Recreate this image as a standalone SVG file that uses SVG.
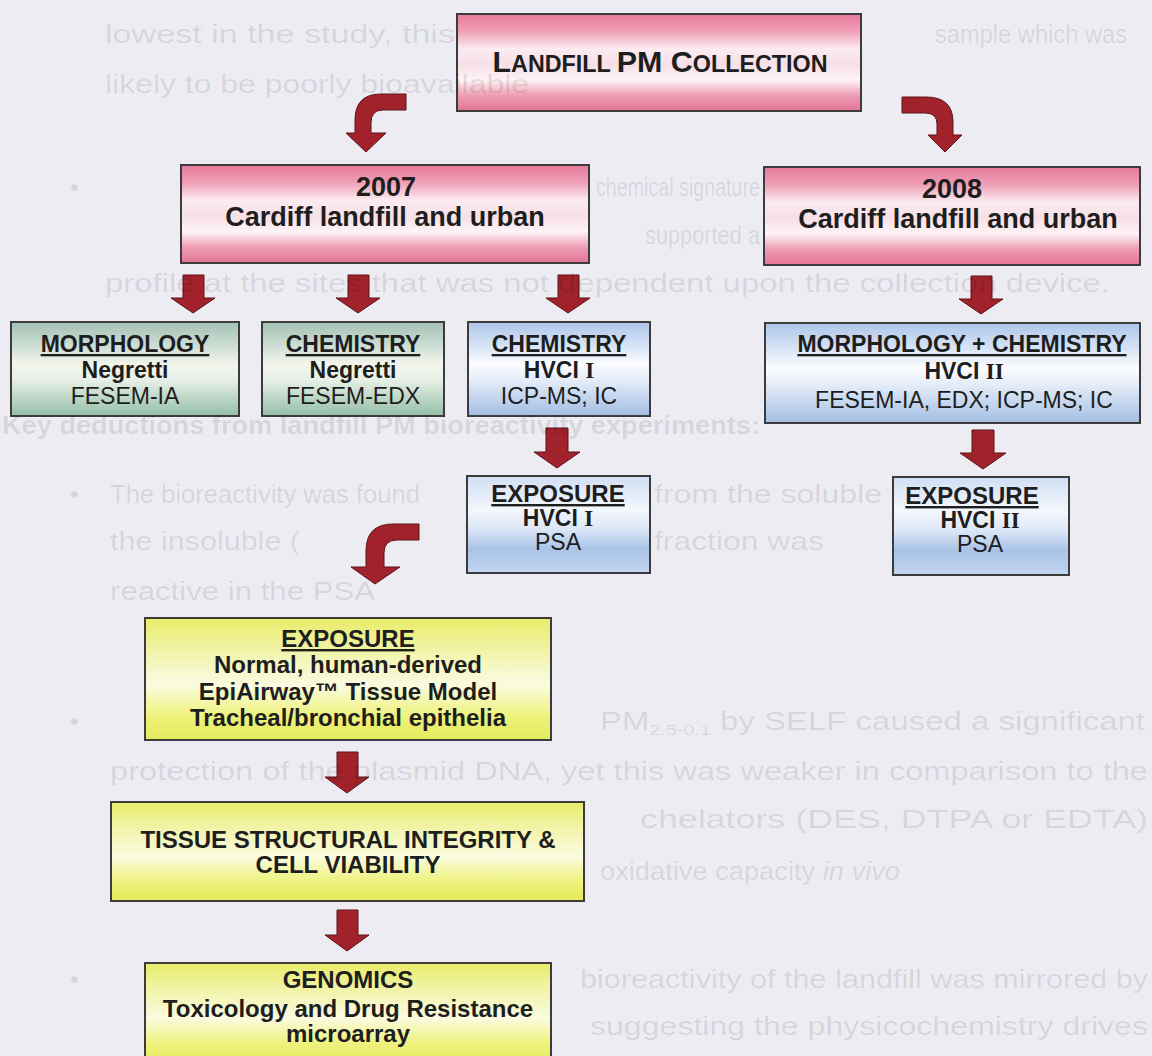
<svg xmlns="http://www.w3.org/2000/svg" width="1152" height="1056" viewBox="0 0 1152 1056">
  <defs>
    <linearGradient id="gPink" x1="0" y1="0" x2="0" y2="1">
      <stop offset="0" stop-color="#e77a9a"/>
      <stop offset="0.18" stop-color="#ef9fb6"/>
      <stop offset="0.36" stop-color="#fbecf1"/>
      <stop offset="0.52" stop-color="#f7dfe6"/>
      <stop offset="0.68" stop-color="#fdf3f6"/>
      <stop offset="0.84" stop-color="#ee9db4"/>
      <stop offset="1" stop-color="#e47396"/>
    </linearGradient>
    <linearGradient id="gGreen" x1="0" y1="0" x2="0" y2="1">
      <stop offset="0" stop-color="#a3c1b4"/>
      <stop offset="0.22" stop-color="#c7dad0"/>
      <stop offset="0.45" stop-color="#f3f5ec"/>
      <stop offset="0.62" stop-color="#e6efe6"/>
      <stop offset="1" stop-color="#93bea7"/>
    </linearGradient>
    <linearGradient id="gBlue" x1="0" y1="0" x2="0" y2="1">
      <stop offset="0" stop-color="#adc6ea"/>
      <stop offset="0.25" stop-color="#d6e3f5"/>
      <stop offset="0.45" stop-color="#fbfcfe"/>
      <stop offset="0.62" stop-color="#e4ecf8"/>
      <stop offset="1" stop-color="#a2bde4"/>
    </linearGradient>
    <linearGradient id="gBlueExp" x1="0" y1="0" x2="0" y2="1">
      <stop offset="0" stop-color="#d0def3"/>
      <stop offset="0.35" stop-color="#f4f7fc"/>
      <stop offset="0.55" stop-color="#dbe6f6"/>
      <stop offset="0.75" stop-color="#a9c3e8"/>
      <stop offset="1" stop-color="#c3d5f0"/>
    </linearGradient>
    <linearGradient id="gYellow" x1="0" y1="0" x2="0" y2="1">
      <stop offset="0" stop-color="#e8ec68"/>
      <stop offset="0.28" stop-color="#f2f4ac"/>
      <stop offset="0.55" stop-color="#fafbe0"/>
      <stop offset="0.8" stop-color="#eff27e"/>
      <stop offset="1" stop-color="#e5e95a"/>
    </linearGradient>
    <style>
      .box { stroke: #3c3c3c; stroke-width: 2; }
      .arrow { fill: #a2222b; stroke: #5c1217; stroke-width: 1; }
      .t { font-family: "Liberation Sans", Arial, sans-serif; fill: #1e1e1e; text-anchor: middle; }
      .b { font-weight: bold; }
      .u { text-decoration: underline; }
      .rn { font-family: "Liberation Serif", "Times New Roman", serif; font-weight: bold; }
      .ghost { font-family: "Liberation Sans", Arial, sans-serif; font-size: 25px; fill: #000; fill-opacity: 0.1; }
    </style>
  </defs>

  <!-- page background -->
  <rect x="0" y="0" width="1152" height="1056" fill="#edecf3"/>

  <!-- connectors -->
  <g id="connectors">
    <!-- bent arrows from the collection box -->
    <path class="arrow" d="M406,94 L381,94 Q355,94 355,120 L355,133 L346,133 L366,152 L386,133 L371,133 L371,123 Q371,110 383,110 L406,110 Z"/>
    <path class="arrow" d="M902,97 L926,97 Q953,97 953,122 L953,135 L962,135 L945,152 L928,135 L937,135 L937,124 Q937,113 925,113 L902,113 Z"/>
    <!-- 2007 branches -->
    <path class="arrow" d="M183,275 L204,275 L204,298 L215,298 L193,313 L171,298 L183,298 Z"/>
    <path class="arrow" d="M348,275 L369,275 L369,298 L380,298 L358,313 L336,298 L348,298 Z"/>
    <path class="arrow" d="M558,275 L579,275 L579,298 L590,298 L568,313 L546,298 L558,298 Z"/>
    <!-- 2008 branch -->
    <path class="arrow" d="M971,276 L992,276 L992,299 L1003,299 L981,314 L959,299 L971,299 Z"/>
    <!-- chemistry to exposure -->
    <path class="arrow" d="M546,428 L568,428 L568,452 L580,452 L557,468 L534,452 L546,452 Z"/>
    <path class="arrow" d="M972,430 L994,430 L994,453 L1006,453 L983,469 L960,453 L972,453 Z"/>
    <!-- bent arrow towards the tissue model -->
    <path class="arrow" d="M419,524 L393,524 Q366,524 366,551 L366,567 L351,567 L375,584 L400,567 L384,567 L384,553 Q384,540 397,540 L419,540 Z"/>
    <!-- yellow column -->
    <path class="arrow" d="M337,752 L358,752 L358,777 L369,777 L347,793 L325,777 L337,777 Z"/>
    <path class="arrow" d="M337,910 L358,910 L358,935 L369,935 L347,951 L325,935 L337,935 Z"/>
  </g>

  <g id="n-collection">
    <rect class="box" x="457" y="14" width="404" height="97" fill="url(#gPink)"/>
    <text class="t b" x="660" y="72" textLength="335" lengthAdjust="spacingAndGlyphs"><tspan font-size="30">L</tspan><tspan font-size="23">ANDFILL </tspan><tspan font-size="30">PM C</tspan><tspan font-size="23">OLLECTION</tspan></text>
  </g>

  <g id="n-2007">
    <rect class="box" x="181" y="165" width="408" height="98" fill="url(#gPink)"/>
    <text class="t b" x="386" y="196" font-size="27">2007</text>
    <text class="t b" x="385" y="226" font-size="27">Cardiff landfill and urban</text>
  </g>

  <g id="n-2008">
    <rect class="box" x="764" y="167" width="376" height="98" fill="url(#gPink)"/>
    <text class="t b" x="952" y="198" font-size="27">2008</text>
    <text class="t b" x="958" y="228" font-size="27">Cardiff landfill and urban</text>
  </g>

  <g id="n-morphology">
    <rect class="box" x="11" y="322" width="228" height="94" fill="url(#gGreen)"/>
    <text class="t b u" x="125" y="352" font-size="23">MORPHOLOGY</text>
    <text class="t b" x="125" y="378" font-size="23">Negretti</text>
    <text class="t" x="125" y="404" font-size="23">FESEM-IA</text>
  </g>

  <g id="n-chemistry-negretti">
    <rect class="box" x="262" y="322" width="182" height="94" fill="url(#gGreen)"/>
    <text class="t b u" x="353" y="352" font-size="23">CHEMISTRY</text>
    <text class="t b" x="353" y="378" font-size="23">Negretti</text>
    <text class="t" x="353" y="404" font-size="23">FESEM-EDX</text>
  </g>

  <g id="n-chemistry-hvci1">
    <rect class="box" x="468" y="322" width="182" height="94" fill="url(#gBlue)"/>
    <text class="t b u" x="559" y="352" font-size="23">CHEMISTRY</text>
    <text class="t b" x="559" y="378" font-size="23">HVCI <tspan class="rn">I</tspan></text>
    <text class="t" x="559" y="404" font-size="23">ICP-MS; IC</text>
  </g>

  <g id="n-morph-chem-hvci2">
    <rect class="box" x="765" y="323" width="375" height="100" fill="url(#gBlue)"/>
    <text class="t b u" x="962" y="352" font-size="23">MORPHOLOGY + CHEMISTRY</text>
    <text class="t b" x="964" y="379" font-size="23">HVCI <tspan class="rn">II</tspan></text>
    <text class="t" x="964" y="408" font-size="23">FESEM-IA, EDX; ICP-MS; IC</text>
  </g>

  <g id="n-exposure-hvci1">
    <rect class="box" x="467" y="476" width="183" height="97" fill="url(#gBlueExp)"/>
    <text class="t b u" x="558" y="502" font-size="24">EXPOSURE</text>
    <text class="t b" x="558" y="526" font-size="23">HVCI <tspan class="rn">I</tspan></text>
    <text class="t" x="558" y="550" font-size="23">PSA</text>
  </g>

  <g id="n-exposure-hvci2">
    <rect class="box" x="893" y="477" width="176" height="98" fill="url(#gBlueExp)"/>
    <text class="t b u" x="972" y="504" font-size="24">EXPOSURE</text>
    <text class="t b" x="980" y="528" font-size="23">HVCI <tspan class="rn">II</tspan></text>
    <text class="t" x="980" y="552" font-size="23">PSA</text>
  </g>

  <g id="n-exposure-tissue">
    <rect class="box" x="145" y="618" width="406" height="122" fill="url(#gYellow)"/>
    <text class="t b u" x="348" y="647" font-size="24">EXPOSURE</text>
    <text class="t b" x="348" y="673" font-size="24">Normal, human-derived</text>
    <text class="t b" x="348" y="700" font-size="24">EpiAirway™ Tissue Model</text>
    <text class="t b" x="348" y="726" font-size="24">Tracheal/bronchial epithelia</text>
  </g>

  <g id="n-integrity">
    <rect class="box" x="111" y="802" width="473" height="99" fill="url(#gYellow)"/>
    <text class="t b" x="348" y="848" font-size="24">TISSUE STRUCTURAL INTEGRITY &amp;</text>
    <text class="t b" x="348" y="873" font-size="24">CELL VIABILITY</text>
  </g>

  <g id="n-genomics">
    <rect class="box" x="145" y="963" width="406" height="100" fill="url(#gYellow)"/>
    <text class="t b" x="348" y="988" font-size="24">GENOMICS</text>
    <text class="t b" x="348" y="1017" font-size="24">Toxicology and Drug Resistance</text>
    <text class="t b" x="348" y="1042" font-size="24">microarray</text>
  </g>

  <!-- faint show-through of the facing page -->
  <g id="page-show-through">
    <text class="ghost" x="105" y="43" textLength="350" lengthAdjust="spacingAndGlyphs">lowest in the study, this</text>
    <text class="ghost" x="935" y="43" textLength="192" lengthAdjust="spacingAndGlyphs">sample which was</text>
    <text class="ghost" x="105" y="93" textLength="424" lengthAdjust="spacingAndGlyphs">likely to be poorly bioavailable</text>
    <text class="ghost" x="70" y="196">•</text>
    <text class="ghost" x="596" y="196" textLength="164" lengthAdjust="spacingAndGlyphs">chemical signature</text>
    <text class="ghost" x="645" y="244" textLength="115" lengthAdjust="spacingAndGlyphs">supported a</text>
    <text class="ghost" x="105" y="292" textLength="1005" lengthAdjust="spacingAndGlyphs">profile at the sites that was not dependent upon the collection device.</text>
    <text class="ghost" x="2" y="434" font-weight="bold" textLength="758" lengthAdjust="spacingAndGlyphs">Key deductions from landfill PM bioreactivity experiments:</text>
    <text class="ghost" x="70" y="503">•</text>
    <text class="ghost" x="110" y="503" textLength="310" lengthAdjust="spacingAndGlyphs">The bioreactivity was found</text>
    <text class="ghost" x="654" y="503" textLength="228" lengthAdjust="spacingAndGlyphs">from the soluble</text>
    <text class="ghost" x="110" y="550" textLength="190" lengthAdjust="spacingAndGlyphs">the insoluble (</text>
    <text class="ghost" x="654" y="550" textLength="170" lengthAdjust="spacingAndGlyphs">fraction was</text>
    <text class="ghost" x="110" y="600" textLength="265" lengthAdjust="spacingAndGlyphs">reactive in the PSA</text>
    <text class="ghost" x="70" y="730">•</text>
    <text class="ghost" x="600" y="730" textLength="545" lengthAdjust="spacingAndGlyphs">PM<tspan font-size="15" dy="5">2.5-0.1</tspan><tspan dy="-5"> by SELF caused a significant</tspan></text>
    <text class="ghost" x="110" y="780" textLength="1038" lengthAdjust="spacingAndGlyphs">protection of the plasmid DNA, yet this was weaker in comparison to the</text>
    <text class="ghost" x="640" y="828" textLength="508" lengthAdjust="spacingAndGlyphs">chelators (DES, DTPA or EDTA)</text>
    <text class="ghost" x="600" y="880" textLength="300" lengthAdjust="spacingAndGlyphs">oxidative capacity <tspan font-style="italic">in vivo</tspan></text>
    <text class="ghost" x="70" y="988">•</text>
    <text class="ghost" x="580" y="988" textLength="568" lengthAdjust="spacingAndGlyphs">bioreactivity of the landfill was mirrored by</text>
    <text class="ghost" x="590" y="1035" textLength="558" lengthAdjust="spacingAndGlyphs">suggesting the physicochemistry drives</text>
  </g>
</svg>
